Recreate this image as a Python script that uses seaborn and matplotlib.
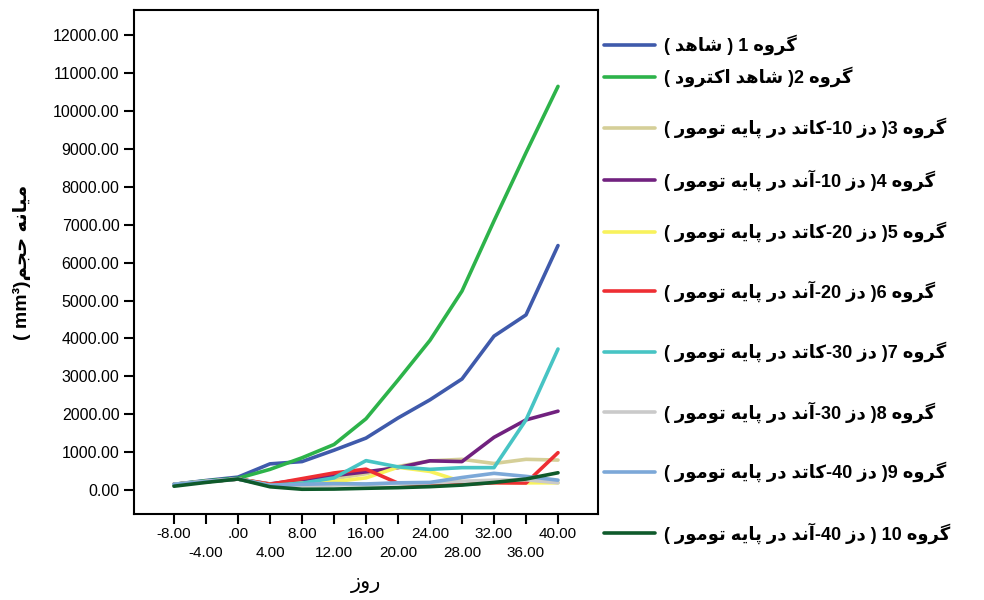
import re
import pandas as pd
import seaborn as sns
import matplotlib.pyplot as plt

# --- data ---
days = [-8, -4, 0, 4, 8, 12, 16, 20, 24, 28, 32, 36, 40]

g1 = [150, 250, 340, 690, 750, 1050, 1370, 1900, 2380, 2930, 4060, 4620, 6450]
g2 = [150, 240, 310, 545, 850, 1200, 1880, 2900, 3950, 5250, 7100, 8900, 10650]
g3 = [150, 220, 290, 150, 200, 300, 430, 620, 770, 810, 700, 810, 790]
g4 = [150, 220, 290, 160, 270, 380, 480, 590, 770, 750, 1390, 1850, 2080]
g5 = [150, 220, 290, 150, 180, 220, 320, 600, 490, 220, 200, 190, 190]
g6 = [150, 220, 290, 150, 300, 450, 550, 180, 140, 150, 190, 185, 985]
g7 = [150, 220, 290, 120, 180, 320, 775, 610, 545, 590, 590, 1850, 3720]
g8 = [150, 230, 290, 120, 110, 130, 150, 170, 190, 230, 260, 270, 190]
g9 = [150, 220, 290, 120, 150, 170, 160, 190, 200, 330, 440, 360, 260]
g10 = [100, 200, 290, 85, 20, 25, 45, 62, 88, 130, 200, 290, 455]

series = [g1, g2, g3, g4, g5, g6, g7, g8, g9, g10]

labels = [
    'گروه 1 ( شاهد )',
    'گروه 2( شاهد اکترود )',
    'گروه 3( دز 10-کاتد در پایه تومور )',
    'گروه 4( دز 10-آند در پایه تومور )',
    'گروه 5( دز 20-کاتد در پایه تومور )',
    'گروه 6( دز 20-آند در پایه تومور )',
    'گروه 7( دز 30-کاتد در پایه تومور )',
    'گروه 8( دز 30-آند در پایه تومور )',
    'گروه 9( دز 40-کاتد در پایه تومور )',
    'گروه 10 ( دز 40-آند در پایه تومور )',
]

colors = ['#3F5AAB', '#2DB34A', '#D5CF98', '#71217F', '#F8F25C',
          '#EE2E33', '#47C4C4', '#CACACA', '#7CA8D8', '#0F5A2B']

yticks = list(range(0, 12001, 1000))

# legend row heights in pixels from the top of the figure
legend_rows = [45, 77, 128, 180, 232, 291, 352, 412, 472, 533]

# --- minimal Persian shaping + right-to-left ordering (matplotlib has no bidi) ---
FORMS = {
    'ا': ('\uFE8D', '\uFE8E', None, None),
    'آ': ('\uFE81', '\uFE82', None, None),
    'پ': ('\uFB56', '\uFB57', '\uFB58', '\uFB59'),
    'ت': ('\uFE95', '\uFE96', '\uFE97', '\uFE98'),
    'ج': ('\uFE9D', '\uFE9E', '\uFE9F', '\uFEA0'),
    'ح': ('\uFEA1', '\uFEA2', '\uFEA3', '\uFEA4'),
    'د': ('\uFEA9', '\uFEAA', None, None),
    'ر': ('\uFEAD', '\uFEAE', None, None),
    'ز': ('\uFEAF', '\uFEB0', None, None),
    'ش': ('\uFEB5', '\uFEB6', '\uFEB7', '\uFEB8'),
    'ک': ('\uFB8E', '\uFB8F', '\uFB90', '\uFB91'),
    'گ': ('\uFB92', '\uFB93', '\uFB94', '\uFB95'),
    'م': ('\uFEE1', '\uFEE2', '\uFEE3', '\uFEE4'),
    'ن': ('\uFEE5', '\uFEE6', '\uFEE7', '\uFEE8'),
    'و': ('\uFEED', '\uFEEE', None, None),
    'ه': ('\uFEE9', '\uFEEA', '\uFEEB', '\uFEEC'),
    'ی': ('\uFBFC', '\uFBFD', '\uFBFE', '\uFBFF'),
}


def rtl(s):
    out = []
    for i, ch in enumerate(s):
        f = FORMS.get(ch)
        if f is None:
            out.append(ch)
            continue
        prev = s[i - 1] if i > 0 else ''
        nxt = s[i + 1] if i + 1 < len(s) else ''
        jp = prev in FORMS and FORMS[prev][2] is not None
        jn = f[2] is not None and nxt in FORMS
        out.append(f[3] if jp and jn else f[1] if jp else f[2] if jn else f[0])
    r = ''.join(out)[::-1].translate(str.maketrans('()', ')('))
    return re.sub(r'[0-9A-Za-z³]+', lambda m: m.group(0)[::-1], r)


rows = []
for lab, vals in zip(labels, series):
    for d, v in zip(days, vals):
        rows.append({'day': d, 'vol': v, 'group': lab})
df = pd.DataFrame(rows)

sns.set_style("white")
plt.rcParams['font.family'] = ['Liberation Sans', 'DejaVu Sans']
plt.rcParams['text.color'] = 'black'
plt.rcParams['axes.labelcolor'] = 'black'

fig = plt.figure(figsize=(9.84, 6.0), dpi=100)
ax = fig.add_axes([134 / 984, 86 / 600, 464 / 984, 504 / 600])

sns.lineplot(data=df, x='day', y='vol', hue='group', hue_order=labels,
             palette=dict(zip(labels, colors)), linewidth=2.6,
             legend=False, ax=ax)

ax.set_xlim(-13, 45)
ax.set_ylim(-633, 12665)

ax.set_yticks(yticks)
ax.set_yticklabels([f'{v:.2f}' for v in yticks], fontsize=11.5)
ax.set_xticks(days)
ax.set_xticklabels(['.00' if d == 0 else f'{d:.2f}' for d in days],
                   fontsize=11)
ax.tick_params(axis='both', direction='out', length=7, width=1.5,
               color='black', labelcolor='black', left=True, bottom=True)
ax.tick_params(axis='x', pad=2)
for i, tk in enumerate(ax.xaxis.get_major_ticks()):
    if i % 2 == 1:
        tk.tick1line.set_markersize(15)
        tk.set_pad(16)

for sp in ax.spines.values():
    sp.set_visible(True)
    sp.set_color('black')
    sp.set_linewidth(1.5)
ax.grid(False)

ax.set_xlabel(rtl('روز'), fontsize=15, labelpad=10, color='black')
ax.set_ylabel(rtl('میانه حجم(mm³ )'), fontsize=14, fontweight='bold',
              labelpad=16, color='black')

handles = ax.get_lines()
for h, lab, y in zip(handles, labels, legend_rows):
    fig.legend([h], [rtl(lab)], loc='center left',
               bbox_to_anchor=(604 / 984, 1 - y / 600), frameon=False,
               borderpad=0, borderaxespad=0, handlelength=2.8,
               handletextpad=0.5, prop={'weight': 'bold', 'size': 13})

fig.savefig('out.png', dpi=100)
